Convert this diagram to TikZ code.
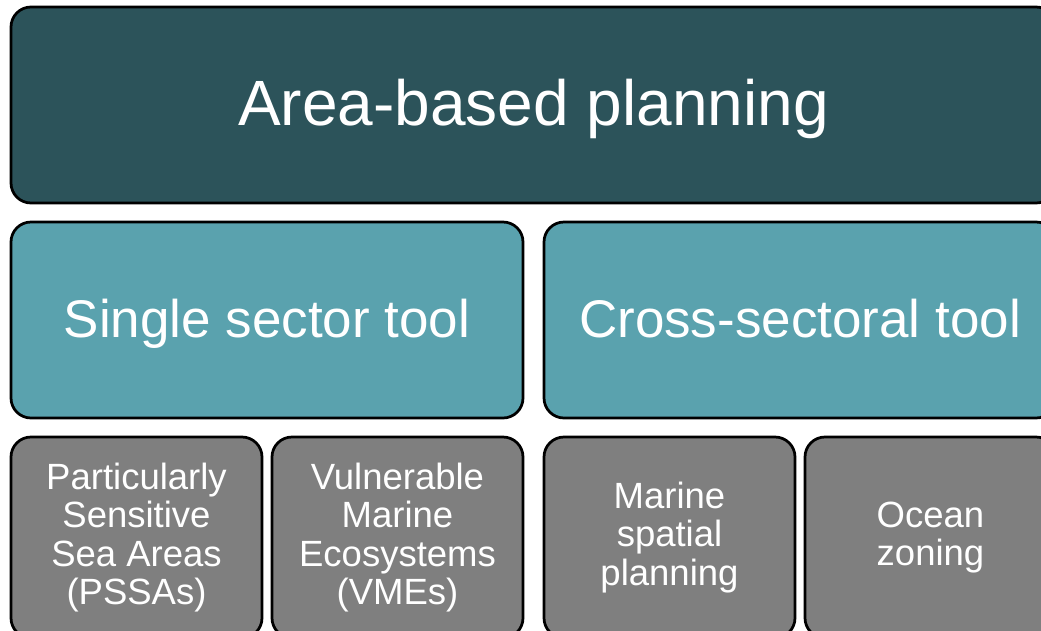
\documentclass[tikz,border=0pt]{standalone}
\usepackage{fontspec}
\setmainfont{Liberation Sans}
\definecolor{areadark}{HTML}{2C535A}
\definecolor{toolteal}{HTML}{5AA2AE}
\definecolor{leafgray}{HTML}{7F7F7F}

\begin{document}
\begin{tikzpicture}[x = 1pt, y = -1pt,
  box/.style = {draw = black, line width = 2.75pt, rounded corners = 20pt,
    text = white, align = center, inner sep = 0pt, minimum height = 196pt},
  areabox/.style = {box, fill = areadark, minimum width = 1045pt,
    font = \fontsize{64}{70}\selectfont, text height = 48pt, text depth = 8pt},
  toolbox/.style = {box, fill = toolteal, minimum width = 512pt,
    font = \fontsize{53}{60}\selectfont, text height = 40pt, text depth = 6pt},
  leafbox/.style = {box, fill = leafgray, minimum width = 251pt,
    minimum height = 201pt, font = \fontsize{36.5}{38.5}\selectfont}]
 \useasboundingbox (0, 0) rectangle (1041, 630);
 \clip (0, 0) rectangle (1041, 630);
 \node[areabox] (area) at (533.5, 105) {Area-based planning};
 \node[toolbox] (single) at (267, 320) {Single sector tool};
 \node[toolbox] (cross) at (800, 320) {Cross-sectoral tool};
 \node[leafbox] (pssa) at (136.5, 537.5) {Particularly\\Sensitive\\Sea Areas\\(PSSAs)};
 \node[leafbox] (vme) at (397.5, 537.5) {Vulnerable\\Marine\\Ecosystems\\(VMEs)};
 \node[leafbox] (msp) at (669.5, 537.5) {Marine\\spatial\\planning};
 \node[leafbox] (ocean) at (930.5, 537.5) {Ocean\\zoning};
\end{tikzpicture}
\end{document}
